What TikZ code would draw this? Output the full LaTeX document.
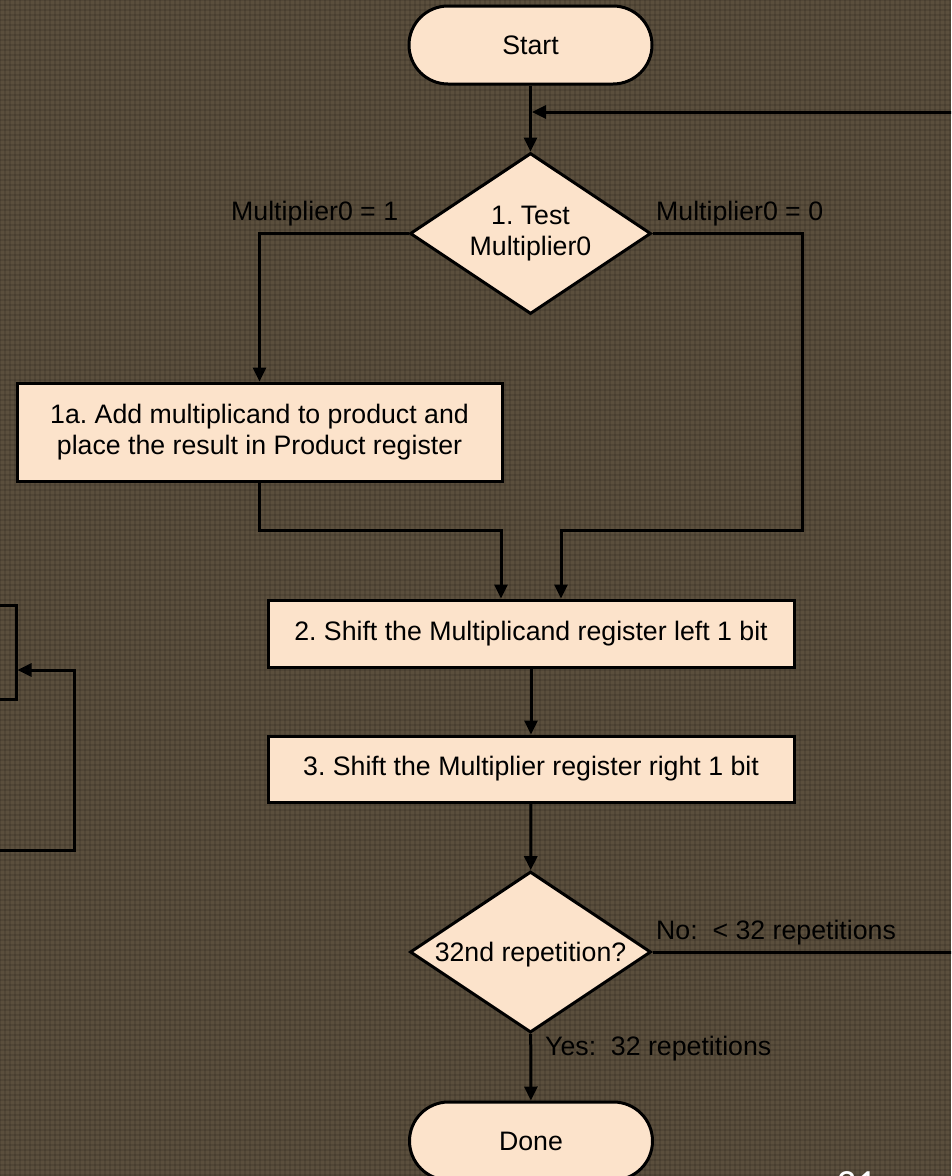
\documentclass[tikz,border=0pt]{standalone}
\usepackage{fontspec}
\setmainfont{Liberation Sans}
\newfontfamily\numfont{Carlito}
\usetikzlibrary{shapes.geometric,arrows.meta}
\definecolor{slidebg}{RGB}{91,79,61}
\definecolor{boxfill}{RGB}{252,227,203}
\frenchspacing
\begin{document}
\begin{tikzpicture}[x=1pt,y=-1pt,
  font=\fontsize{26.7}{31}\selectfont,
  proc/.style={draw, line width=3pt, fill=boxfill, rectangle, inner sep=0pt, align=center},
  term/.style={proc, rounded corners=39pt, minimum width=243pt, minimum height=78pt},
  decision/.style={draw, line width=3pt, fill=boxfill, diamond, aspect=1.5, inner sep=0pt,
    align=center, minimum width=241pt, minimum height=161pt},
  flow/.style={line width=3pt, -{Triangle[length=14pt,width=13pt]}},
  wire/.style={line width=3pt},
  lbl/.style={inner sep=0pt, anchor=base west},
  weave/.style={line width=1.4pt, black, opacity=0.10}]

% slide background with a woven texture
\clip (0,0) rectangle (951,1176);
\fill[slidebg] (0,0) rectangle (951,1176);
\foreach \i in {0,5,...,951} \draw[weave] (\i,0) -- (\i,1176);
\foreach \j in {0,5,...,1176} \draw[weave] (0,\j) -- (951,\j);

% flowchart steps
\node[term] (start) at (530.5,45) {Start};
\node[decision] (test) at (530.5,233.5) {1. Test\\Multiplier0};
\node[proc, minimum width=485pt, minimum height=98pt] (add) at (259.5,432)
  {1a. Add multiplicand to product and\\place the result in Product register};
\node[proc, minimum width=526pt, minimum height=67pt] (shl) at (531,633.5)
  {2. Shift the Multiplicand register left 1 bit};
\node[proc, minimum width=526pt, minimum height=66pt] (shr) at (531,769)
  {3. Shift the Multiplier register right 1 bit};
\node[decision, text depth=0pt] (rep) at (530.5,952) {32nd repetition?};
\node[term] (done) at (531,1141) {Done};

% part of the neighbouring flowchart at the left edge
\node[draw, line width=3pt, minimum width=316pt, minimum height=94pt] (prev) at (-142,652) {};

% branch labels
\node[lbl] (m1) at (231,220) {Multiplier0 = 1};
\node[lbl] (m0) at (656,220) {Multiplier0 = 0};
\node[lbl] (no) at (656,939) {No:\ \ < 32 repetitions};
\node[lbl] (yes) at (545,1055) {Yes:\ \ 32 repetitions};

% page number
\node[inner sep=0pt, anchor=north west, text=white, font=\fontsize{40}{40}\selectfont\numfont] (pg) at (836,1171) {31};

% connectors
\coordinate (loopin) at (960,112);
\coordinate (rturn) at (802,530);
\coordinate (noend) at (960,952);
\coordinate (lbot) at (-10,850);
\coordinate (ltop) at (74,670);

\draw[flow] (start) -- (test);
\draw[flow, shorten >=1.5pt] (loopin) -- (start.south |- loopin);
\draw[flow] (test.west) -| (add.north);
\draw[flow] (test.east) -| (rturn) -| ([xshift=30pt]shl.north);
\draw[flow] (add.south) |- ([xshift=-30pt]shl.north |- rturn) -- ([xshift=-30pt]shl.north);
\draw[flow] (shl) -- (shr);
\draw[flow] (shr) -- (rep);
\draw[wire] (rep.east) -- (noend);
\draw[flow] (rep) -- (done);
\draw[flow] (lbot) -| (ltop) -- (prev.east |- ltop);
\end{tikzpicture}
\end{document}
